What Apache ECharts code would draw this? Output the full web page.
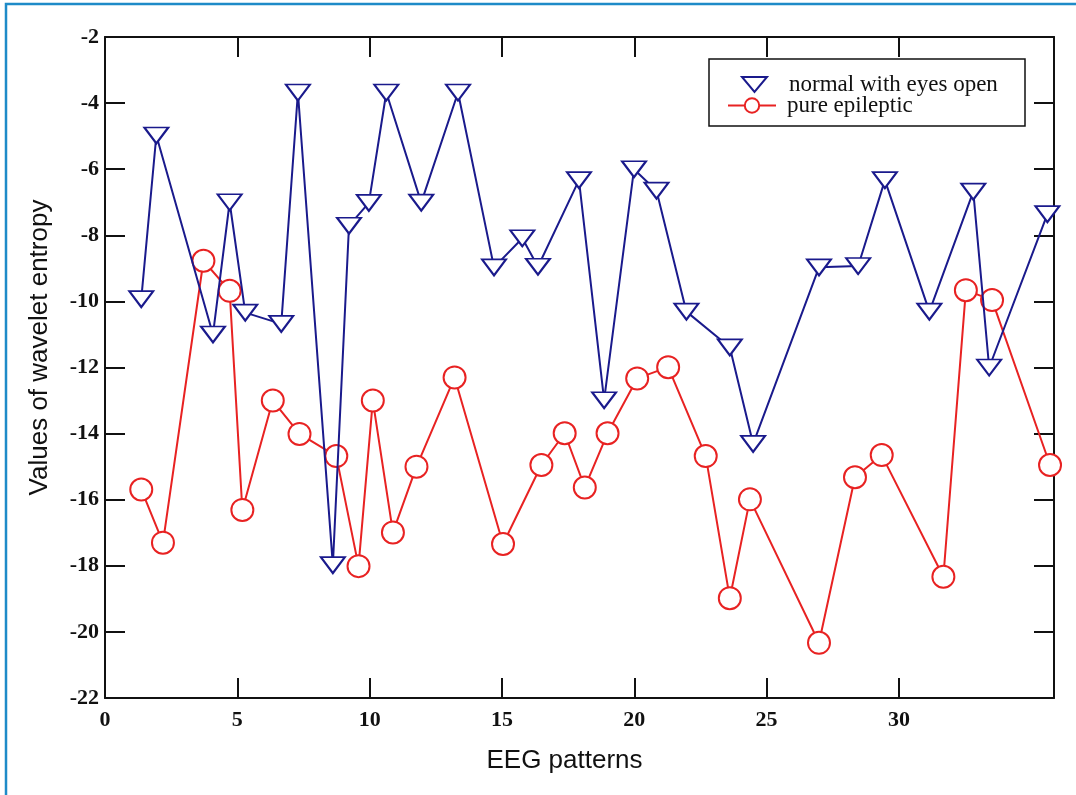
<!DOCTYPE html>
<html style="height: 100%">
<head>
    <meta charset="utf-8">
</head>
<body style="height: 100%; margin: 0; background: #fff">
    <div id="container" style="width: 1076px; height: 795px"></div>
    <script src="https://cdn.jsdelivr.net/npm/echarts@6/dist/echarts.min.js"></script>
    <script type="text/javascript">
        // data: [EEG pattern position, wavelet entropy]
        var normalEyesOpen = [
            [1.37, -9.93], [1.94, -4.98], [4.08, -11.0], [4.71, -7.0], [5.30, -10.34],
            [6.66, -10.68], [7.29, -3.68], [8.61, -17.98], [9.22, -7.71], [9.97, -7.02],
            [10.63, -3.68], [11.95, -7.01], [13.34, -3.68], [14.70, -8.97], [15.77, -8.09],
            [16.36, -8.95], [17.91, -6.33], [18.86, -12.99], [19.99, -6.0], [20.84, -6.65],
            [21.97, -10.31], [23.61, -11.39], [24.49, -14.31], [26.98, -8.97], [28.46, -8.93],
            [29.47, -6.33], [31.15, -10.31], [32.81, -6.68], [33.41, -12.0], [35.61, -7.36]
        ];
        var pureEpileptic = [
            [1.37, -15.69], [2.19, -17.30], [3.72, -8.77], [4.71, -9.68], [5.19, -16.31],
            [6.34, -13.0], [7.35, -14.01], [8.74, -14.68], [9.58, -18.01], [10.12, -13.0],
            [10.88, -16.99], [11.77, -15.0], [13.21, -12.30], [15.04, -17.34], [16.49, -14.95],
            [17.37, -13.99], [18.13, -15.63], [18.99, -13.99], [20.11, -12.33], [21.28, -11.99],
            [22.70, -14.68], [23.61, -18.98], [24.37, -15.99], [26.98, -20.33], [28.34, -15.32],
            [29.35, -14.65], [31.68, -18.33], [32.53, -9.66], [33.52, -9.96], [35.71, -14.95]
        ];
        var xTicks = [0, 5, 10, 15, 20, 25, 30];

        var dom = document.getElementById('container');
        var myChart = echarts.init(dom);
        var option;

        var labelFont = {
            fontFamily: 'Liberation Serif',
            fontWeight: 'bold',
            fontSize: 22,
            color: '#111'
        };
        var blackLine = { color: '#111', width: 2 };

        option = {
            animation: false,
            backgroundColor: '#fff',
            grid: { left: 105, top: 37, right: 22, bottom: 97 },
            graphic: [
                {   // thin blue frame around the figure
                    type: 'rect',
                    shape: { x: 6, y: 4, width: 1090, height: 820 },
                    style: { fill: 'none', stroke: '#1e8bc8', lineWidth: 2.5 },
                    silent: true
                },
                {   // legend box
                    type: 'rect',
                    shape: { x: 709, y: 59, width: 316, height: 67 },
                    style: { fill: '#fff', stroke: '#111', lineWidth: 1.5 },
                    z: 50
                }
            ],
            legend: [{
                left: 736,
                top: 68,
                itemWidth: 25,
                itemHeight: 15,
                z: 60,
                data: [{ name: 'normal with eyes open', icon: 'path://M0,0L25,0L12.5,15Z' }],
                textStyle: {
                    fontFamily: 'Liberation Serif', fontSize: 23, color: '#111',
                    padding: [0, 0, 0, 17]
                }
            }, {
                left: 722,
                top: 89,
                itemWidth: 48,
                itemHeight: 18,
                z: 60,
                data: ['pure epileptic'],
                textStyle: {
                    fontFamily: 'Liberation Serif', fontSize: 23, color: '#111',
                    padding: [0, 0, 0, 6]
                }
            }],
            xAxis: [{
                type: 'value',
                position: 'bottom',
                min: 0,
                max: 35.86,
                interval: 5,
                name: 'EEG patterns',
                nameLocation: 'middle',
                nameGap: 50,
                nameTextStyle: {
                    fontFamily: 'Liberation Sans', fontSize: 26, color: '#111',
                    padding: [0, 30, 0, 0]
                },
                axisLine: { onZero: false, lineStyle: blackLine },
                axisTick: { inside: true, length: 20, lineStyle: blackLine, customValues: xTicks },
                axisLabel: Object.assign({ margin: 11, customValues: xTicks }, labelFont),
                splitLine: { show: false }
            }, {
                type: 'value',
                position: 'top',
                min: 0,
                max: 35.86,
                interval: 5,
                axisLine: { onZero: false, lineStyle: blackLine },
                axisTick: { inside: true, length: 20, lineStyle: blackLine, customValues: xTicks },
                axisLabel: { show: false },
                splitLine: { show: false }
            }],
            yAxis: [{
                type: 'value',
                position: 'left',
                min: -22,
                max: -2,
                interval: 2,
                name: 'Values of wavelet entropy',
                nameLocation: 'middle',
                nameGap: 52,
                nameTextStyle: {
                    fontFamily: 'Liberation Sans', fontSize: 26, color: '#111',
                    padding: [0, 0, 0, 40]
                },
                axisLine: { onZero: false, lineStyle: blackLine },
                axisTick: { inside: true, length: 20, lineStyle: blackLine },
                axisLabel: Object.assign({ margin: 6 }, labelFont),
                splitLine: { show: false }
            }, {
                type: 'value',
                position: 'right',
                min: -22,
                max: -2,
                interval: 2,
                axisLine: { onZero: false, lineStyle: blackLine },
                axisTick: { inside: true, length: 20, lineStyle: blackLine },
                axisLabel: { show: false },
                splitLine: { show: false }
            }],
            series: [{
                name: 'normal with eyes open',
                type: 'line',
                data: normalEyesOpen,
                symbol: 'triangle',
                symbolRotate: 180,
                symbolSize: [24, 16],
                lineStyle: { color: '#1a1a8c', width: 2 },
                itemStyle: { color: '#fff', borderColor: '#1a1a8c', borderWidth: 2 },
                z: 3
            }, {
                name: 'pure epileptic',
                type: 'line',
                data: pureEpileptic,
                symbol: 'circle',
                symbolSize: 22,
                lineStyle: { color: '#e82222', width: 2 },
                itemStyle: { color: '#fff', borderColor: '#e82222', borderWidth: 2 },
                z: 2
            }]
        };

        if (option && typeof option === 'object') {
            myChart.setOption(option);
        }
    </script>
</body>
</html>
